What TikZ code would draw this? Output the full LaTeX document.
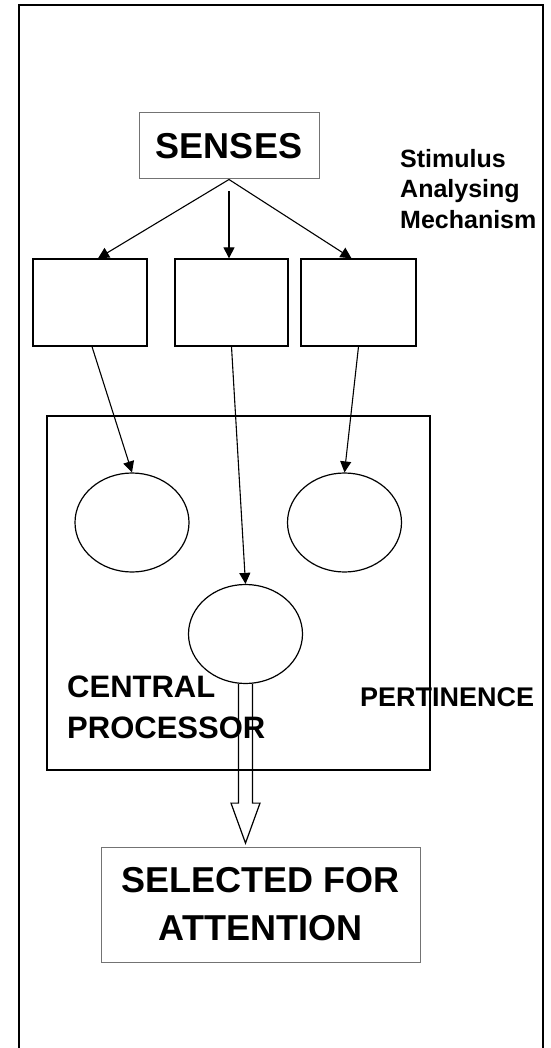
\documentclass[tikz,border=0pt]{standalone}
\usepackage{fontspec}
\setmainfont{Liberation Sans}
\usetikzlibrary{shapes.geometric,arrows.meta,calc}
\begin{document}
\begin{tikzpicture}[x=1pt,y=-1pt]
\tikzset{
 blk/.style={draw=black, line width=1.3pt, inner sep=0pt},
 gbox/.style={draw=black!55, line width=1pt, inner sep=0pt, font=\bfseries\fontsize{36}{48}\selectfont, align=center},
 ell/.style={ellipse, draw=black, line width=1.2pt, inner sep=0pt, minimum width=114pt, minimum height=99pt},
 arr/.style={-{Triangle[length=11pt,width=11pt]}, line width=1.1pt},
 lbl/.style={anchor=west, align=left, inner sep=0pt},
 frame/.style={line width=1.5pt},
 hollow/.style={line width=1.2pt, line join=miter}
}
\useasboundingbox (0,0) rectangle (550,1048);
\draw[frame] (19,1048) -- (19,5) -- (543,5) -- (543,1048);

\node[gbox, minimum width=180pt, minimum height=66pt] (senses) at (229,146) {SENSES};
\node[blk, minimum width=114pt, minimum height=87pt] (b1) at (90,302.5) {};
\node[blk, minimum width=113pt, minimum height=87pt] (b2) at (231.5,302.5) {};
\node[blk, minimum width=115pt, minimum height=87pt] (b3) at (358.5,302.5) {};
\node[blk, minimum width=383pt, minimum height=354pt] (cp) at (238.5,593) {};
\node[ell] (e1) at (132,522.5) {};
\node[ell] (e2) at (344.5,522.5) {};
\node[ell] (e3) at (245.5,634) {};
\node[gbox, minimum width=319pt, minimum height=115pt] (sel) at (260.5,904.5) {SELECTED FOR\\ATTENTION};

\node[lbl, font=\bfseries\fontsize{25}{30.5}\selectfont] (sam) at (400,189) {Stimulus\\Analysing\\Mechanism};
\node[lbl, font=\bfseries\fontsize{31}{41}\selectfont] (cpl) at (67,707.5) {CENTRAL\\PROCESSOR};
\node[lbl, font=\bfseries\fontsize{27}{32}\selectfont] (pert) at (360,697) {PERTINENCE};

\draw[arr] (senses.south) -- ([xshift=8pt]b1.north);
\draw[arr] ([yshift=-12pt]senses.south) -- (senses.south |- b2.north);
\draw[arr] (senses.south) -- ([xshift=-7pt]b3.north);
\draw[arr] ([xshift=2pt]b1.south) -- (e1.north);
\draw[arr] (b2.south) -- (e3.north);
\draw[arr] (b3.south) -- (e2.north);

\draw[hollow] ([xshift=-7pt]e3.south) -- ++(0,119) -- ++(-7.5,0) -- ++(14.5,40) -- ++(14.5,-40) -- ++(-7.5,0) -- ++(0,-119);
\end{tikzpicture}
\end{document}
